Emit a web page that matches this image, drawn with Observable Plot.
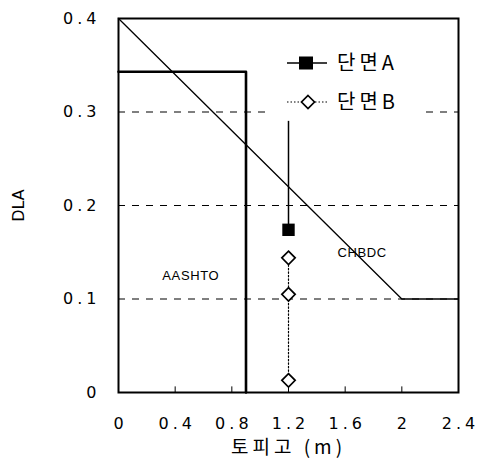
<!DOCTYPE html>
<html><head><meta charset="utf-8">
<script src="https://cdn.jsdelivr.net/npm/d3@7"></script>
<script src="https://cdn.jsdelivr.net/npm/@observablehq/plot@0.6"></script>
<style>
html,body{margin:0;padding:0;background:#fff;}
#wrap{position:relative;width:478px;height:464px;}
#legend{position:absolute;left:268px;top:40px;width:152px;height:75px;background:#fff;font-family:"Noto Sans CJK KR","Liberation Sans",sans-serif;font-size:20px;line-height:20px;}
#legend svg{position:absolute;left:0;top:0;}
#legend span{position:absolute;left:69px;letter-spacing:4px;white-space:nowrap;}
g[aria-label="y-axis tick label"] text{letter-spacing:4px;}
g[aria-label="x-axis tick label"] text{letter-spacing:4px;}
g[aria-label="x-axis label"] text{letter-spacing:4px;}
g[aria-label="text"] text{letter-spacing:0.6px;}
</style>
</head><body>
<div id="wrap"><div id="legend">
<svg width="70" height="75">
<line x1="19" x2="59" y1="23" y2="23" stroke="#000" stroke-width="1.3"/>
<rect x="31" y="16.5" width="14" height="13" fill="#000"/>
<line x1="19" x2="59" y1="62" y2="62" stroke="#000" stroke-width="1.2" stroke-dasharray="1.5,2"/>
<path d="M40,55.5 L46.5,62 L40,68.5 L33.5,62 Z" fill="#fff" stroke="#000" stroke-width="1.7"/>
</svg>
<span style="top:12px;">단면A</span>
<span style="top:51px;">단면B</span>
</div></div>
<script>
const xTicks = [0, 0.4, 0.8, 1.2, 1.6, 2, 2.4];
const yTicks = [0, 0.1, 0.2, 0.3, 0.4];
const gridY = [0.1, 0.2, 0.3];
const aashtoX = [0, 0.9, 0.9];
const aashtoY = [0.343, 0.343, 0];
const chbdcX = [0, 2, 2.4];
const chbdcY = [0.4, 0.1, 0.1];
const secAX = 1.2;
const secARange = [0.29, 0.174];
const secAMean = 0.174;
const secBX = 1.2;
const secBY = [0.144, 0.105, 0.013];
const labelNames = ["AASHTO", "CHBDC"];
const labelX = [0.51, 1.72];
const labelY = [0.125, 0.149];

const aashto = aashtoX.map((x, i) => ({x, y: aashtoY[i]}));
const chbdc = chbdcX.map((x, i) => ({x, y: chbdcY[i]}));
const secB = secBY.map(y => ({x: secBX, y}));
const labels = labelNames.map((t, i) => ({t, x: labelX[i], y: labelY[i]}));

const tickFont = "'DejaVu Sans', 'Liberation Sans', sans-serif";

const chart = Plot.plot({
  width: 478, height: 464,
  marginLeft: 118, marginRight: 20, marginTop: 18, marginBottom: 72,
  style: {fontFamily: "'Liberation Sans', Arial, sans-serif", fontSize: "16px", color: "#000", background: "#fff"},
  x: {domain: [0, 2.4]},
  y: {domain: [0, 0.4]},
  marks: [
    Plot.ruleY(gridY, {stroke: "#000", strokeWidth: 1.2, strokeDasharray: "7,7"}),
    Plot.ruleX(xTicks.slice(1, -1), {y1: 0, y2: 0.006, stroke: "#000", strokeWidth: 1}),
    Plot.line(chbdc, {x: "x", y: "y", stroke: "#000", strokeWidth: 1.3}),
    Plot.line(aashto, {x: "x", y: "y", stroke: "#000", strokeWidth: 2.6}),
    Plot.line(secB, {x: "x", y: "y", stroke: "#000", strokeWidth: 1.2, strokeDasharray: "1.5,2"}),
    Plot.ruleX([secAX], {y1: secARange[1], y2: secARange[0], stroke: "#000", strokeWidth: 1.5}),
    Plot.dot([{x: secAX, y: secAMean}], {x: "x", y: "y", symbol: "square", r: 7, fill: "#000"}),
    Plot.dot(secB, {x: "x", y: "y", symbol: "diamond2", r: 6, fill: "#fff", stroke: "#000", strokeWidth: 1.7}),
    Plot.text(labels, {x: "x", y: "y", text: "t", fontSize: 13, fill: "#000"}),
    Plot.frame({stroke: "#000", strokeWidth: 2}),
    Plot.axisX(xTicks, {tickSize: 0, tickPadding: 25, fontSize: 16, fontFamily: tickFont, dx: 2, tickFormat: d => String(d), label: null}),
    Plot.axisX({ticks: [], tickSize: 0, label: "토피고 (m)", labelAnchor: "center", labelArrow: "none", labelOffset: 61, dx: -5, fontSize: 19, fontFamily: "'Noto Sans CJK KR','Liberation Sans',sans-serif"}),
    Plot.axisY(yTicks, {tickSize: 0, tickPadding: 18, fontSize: 16, fontFamily: tickFont, tickFormat: d => String(d), label: null}),
    Plot.axisY({ticks: [], tickSize: 0, label: "DLA", labelAnchor: "center", labelArrow: "none", labelOffset: 106, fontSize: 16, fontFamily: tickFont})
  ]
});
document.getElementById("wrap").prepend(chart);
</script>
</body></html>
